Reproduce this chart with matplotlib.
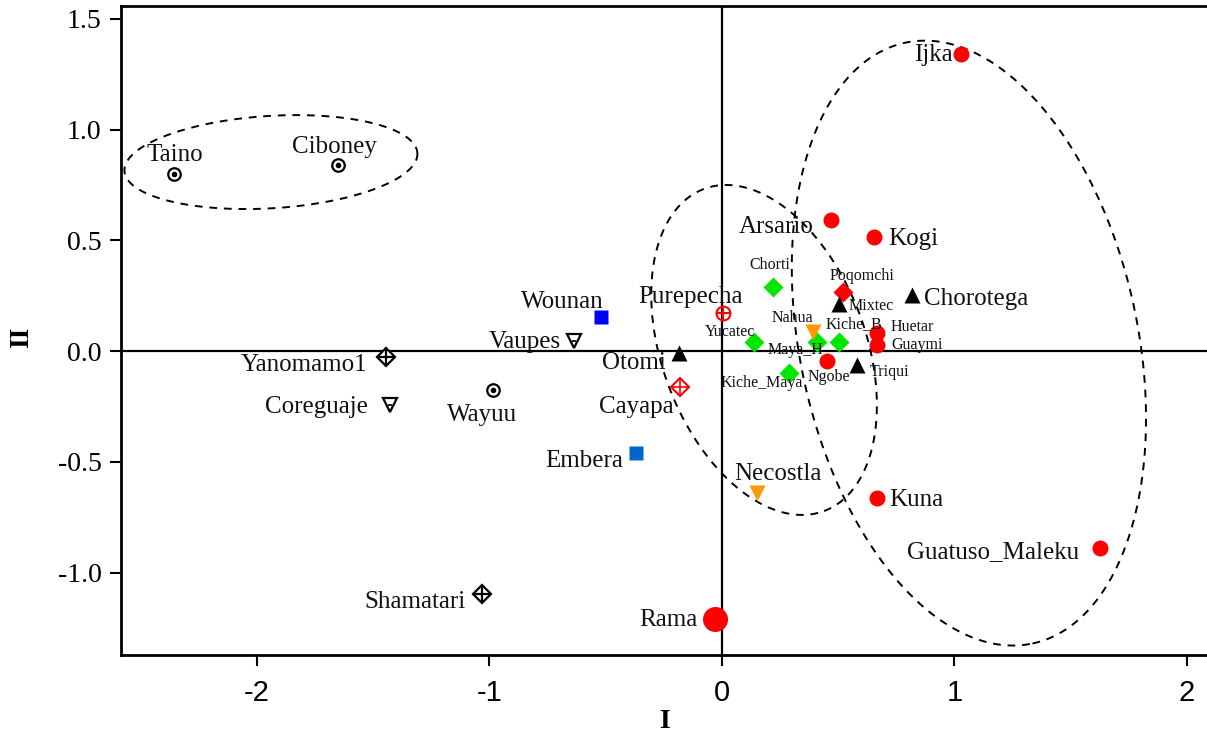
import numpy as np
import matplotlib
matplotlib.use("Agg")
import matplotlib.pyplot as plt

# population coordinates on the two axes
names = ["Taino", "Ciboney", "Wayuu",
         "Ijka", "Arsario", "Kogi", "Huetar", "Guaymi", "Ngobe", "Kuna", "Guatuso_Maleku", "Rama",
         "Chorti", "Yucatec", "Maya_H", "Kiche_B", "Kiche_Maya",
         "Poqomchi",
         "Mixtec", "Chorotega", "Triqui", "Otomi",
         "Purepecha", "Cayapa",
         "Wounan", "Embera",
         "Nahua", "Necostla",
         "Vaupes", "Coreguaje",
         "Yanomamo1", "Shamatari"]
dim1 = [-2.357, -1.652, -0.985,
        1.028, 0.469, 0.654, 0.667, 0.667, 0.452, 0.667, 1.626, -0.030,
        0.219, 0.138, 0.409, 0.503, 0.288,
        0.520,
        0.503, 0.817, 0.581, -0.185,
        0.004, -0.181,
        -0.520, -0.370,
        0.391, 0.151,
        -0.637, -1.428,
        -1.445, -1.032]
dim2 = [0.799, 0.840, -0.176,
        1.341, 0.591, 0.515, 0.081, 0.027, -0.045, -0.664, -0.889, -1.210,
        0.289, 0.041, 0.041, 0.041, -0.099,
        0.266,
        0.212, 0.253, -0.063, -0.009,
        0.172, -0.163,
        0.153, -0.460,
        0.086, -0.641,
        0.045, -0.244,
        -0.027, -1.097]
groups = ["circdot"] * 3 + ["redcirc"] * 9 + ["greendiam"] * 5 + ["reddiam"] + \
         ["blacktri"] * 4 + ["redcircplus", "reddiamplus"] + ["blue", "blue2"] + \
         ["orange"] * 2 + ["opentri"] * 2 + ["diamplus"] * 2

small_labels = ["Chorti", "Poqomchi", "Mixtec", "Yucatec", "Nahua", "Maya_H", "Kiche_B",
                "Huetar", "Guaymi", "Ngobe", "Triqui", "Kiche_Maya"]

# label offsets in pixels (dx, dy downwards, anchor)
label_pos = {
    "Taino": (1, -19, "center"), "Ciboney": (-3, -18, "center"), "Wayuu": (-11, 25, "center"),
    "Ijka": (-8, 1, "right"), "Arsario": (-17, 7, "right"), "Kogi": (14, 2, "left"),
    "Huetar": (14, -6, "left"), "Guaymi": (14, 0, "left"), "Ngobe": (2, 16, "center"),
    "Kuna": (12, 2, "left"), "Guatuso_Maleku": (-21, 4, "right"), "Rama": (-18, 1, "right"),
    "Chorti": (-3, -22, "center"), "Yucatec": (-24, -10, "center"), "Maya_H": (-22, 8, "center"),
    "Kiche_B": (15, -18, "center"), "Kiche_Maya": (-27, 10, "center"),
    "Poqomchi": (19, -16, "center"), "Mixtec": (10, 2, "left"), "Chorotega": (12, 4, "left"),
    "Triqui": (13, 7, "left"), "Otomi": (-13, 10, "right"),
    "Purepecha": (-32, -16, "center"), "Cayapa": (-6, 20, "right"),
    "Wounan": (-39, -15, "center"), "Embera": (-13, 8, "right"),
    "Nahua": (-20, -14, "center"), "Necostla": (21, -19, "center"),
    "Vaupes": (-13, 1, "right"), "Coreguaje": (-22, 2, "right"),
    "Yanomamo1": (-19, 8, "right"), "Shamatari": (-16, 8, "right"),
}

# dashed cluster ellipses: centre, half-axis vectors (data units)
ellipses = [
    ((-1.940, 0.853), (0.630, 0.041), (0.013, -0.208)),
    ((0.181, 0.005), (0.258, -0.727), (0.411, 0.161)),
    ((1.062, 0.036), (0.2735, -1.356), (0.711, 0.158)),
]

serif = ["Liberation Serif", "DejaVu Serif"]
plt.rcParams["font.family"] = serif

fig = plt.figure(figsize=(12.07, 7.36), dpi=100)
ax = fig.add_axes([0.1002, 0.110, 0.8998, 0.882])

ax.axhline(0, color="black", lw=1.6, zorder=1)
ax.axvline(0, color="black", lw=1.6, zorder=1)

t = np.linspace(0, 2 * np.pi, 400)
for c, u, v in ellipses:
    ex = c[0] + u[0] * np.cos(t) + v[0] * np.sin(t)
    ey = c[1] + u[1] * np.cos(t) + v[1] * np.sin(t)
    ax.plot(ex, ey, color="black", lw=1.4, ls=(0, (4, 3.5)), zorder=2)


def draw_marker(x, y, g, name):
    if g == "circdot":
        ax.plot(x, y, "o", ms=9, mfc="white", mec="black", mew=1.6, zorder=4)
        ax.plot(x, y, "o", ms=3, color="black", zorder=5)
    elif g == "redcirc":
        ms = 18 if name == "Rama" else 11.5
        ax.plot(x, y, "o", ms=ms, color="#ff0000", mec="none", zorder=4)
    elif g == "greendiam":
        ax.plot(x, y, "D", ms=10, color="#00e600", mec="none", zorder=4)
    elif g == "reddiam":
        ax.plot(x, y, "D", ms=10, color="#ff0000", mec="none", zorder=4)
    elif g == "blacktri":
        ax.plot(x, y, "^", ms=12, color="black", mec="none", zorder=4)
    elif g == "redcircplus":
        ax.plot(x, y, "o", ms=10, mfc="none", mec="#ff0000", mew=1.5, zorder=4)
        ax.plot(x, y, "+", ms=10, color="#ff0000", mew=1.5, zorder=4)
    elif g == "reddiamplus":
        ax.plot(x, y, "D", ms=9, mfc="none", mec="#ff0000", mew=1.5, zorder=4)
        ax.plot(x, y, "+", ms=12, color="#ff0000", mew=1.2, zorder=4)
    elif g == "blue":
        ax.plot(x, y, "s", ms=10, color="#0000ff", mec="none", zorder=4)
    elif g == "blue2":
        ax.plot(x, y, "s", ms=10, color="#0066cc", mec="none", zorder=4)
    elif g == "orange":
        ax.plot(x, y, "v", ms=12, color="#ff9900", mec="none", zorder=4)
    elif g == "opentri":
        ax.plot(x, y, "v", ms=10, mfc="white", mec="black", mew=1.6, zorder=4)
        ax.plot(x, y, "_", ms=3, color="black", mew=1.2, zorder=5)
    elif g == "diamplus":
        ax.plot(x, y, "D", ms=9, mfc="white", mec="black", mew=1.6, zorder=4)
        ax.plot(x, y, "+", ms=12, color="black", mew=1.6, zorder=5)


for name, x, y, g in zip(names, dim1, dim2, groups):
    draw_marker(x, y, g, name)
    dx, dy, ha = label_pos[name]
    size = 11.5 if name in small_labels else 18
    ax.annotate(name, (x, y), xytext=(dx * 0.72, -dy * 0.72), textcoords="offset points",
                ha=ha, va="center", fontsize=size, color="#111111", zorder=6)

ax.set_xlim(-2.585, 2.086)
ax.set_ylim(-1.372, 1.558)

ax.set_xticks([-2, -1, 0, 1, 2])
ax.set_xticklabels(["-2", "-1", "0", "1", "2"],
                   family=["Liberation Sans Narrow", "Liberation Sans", "DejaVu Sans"], fontsize=21)
ax.set_yticks([-1.0, -0.5, 0.0, 0.5, 1.0, 1.5])
ax.set_yticklabels(["-1.0", "-0.5", "0.0", "0.5", "1.0", "1.5"], fontsize=20)
ax.tick_params(direction="out", length=8, width=1.5, pad=6)
ax.tick_params(axis="x", pad=9)

for side in ["left", "bottom", "top"]:
    ax.spines[side].set_linewidth(2)
ax.spines["right"].set_visible(False)

ax.set_xlabel("I", fontsize=20, fontweight="bold", va="center")
ax.set_ylabel("II", fontsize=20, fontweight="bold", va="center")
ax.xaxis.set_label_coords(0.5, -0.103)
ax.yaxis.set_label_coords(-0.091, 0.49)

fig.savefig("out.png", dpi=100)
